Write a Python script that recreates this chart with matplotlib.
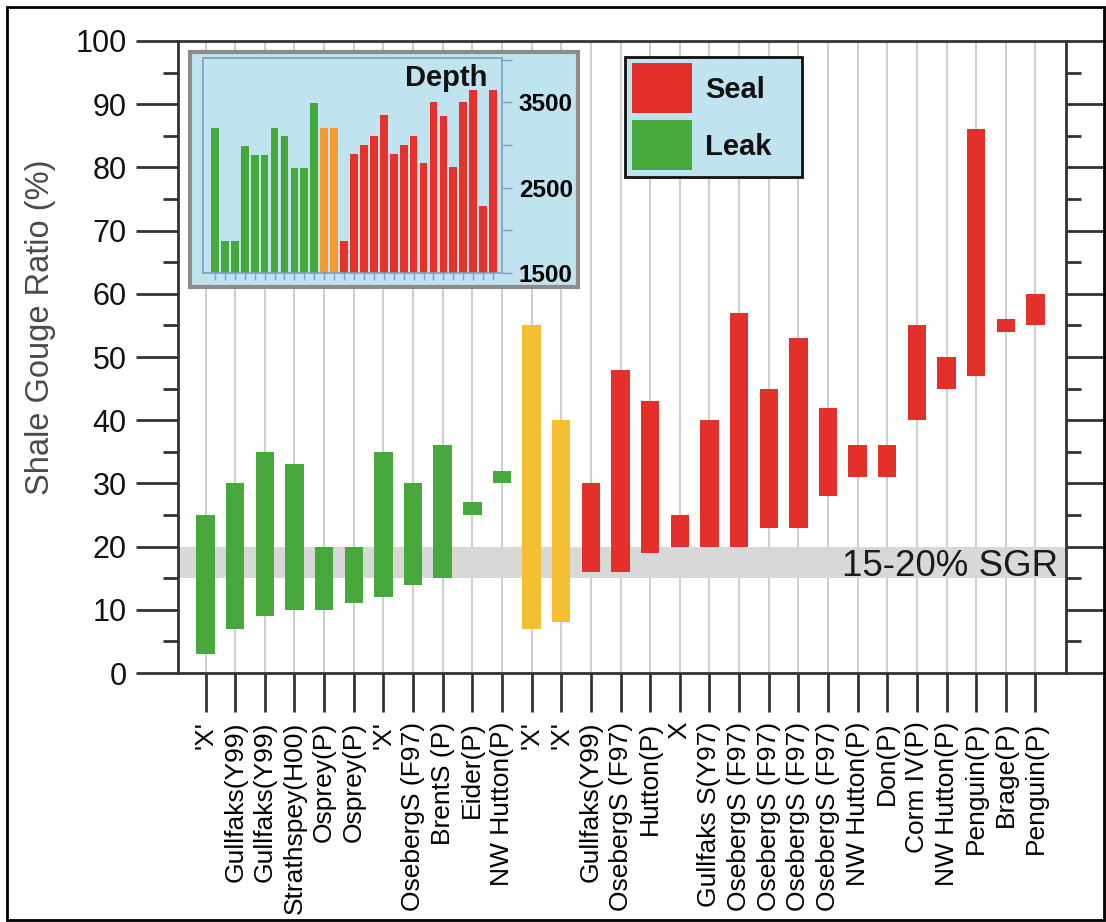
from matplotlib import pyplot as plt
from matplotlib.patches import Rectangle
from matplotlib.ticker import MultipleLocator, FixedLocator
import numpy as np

plt.rcParams['font.family'] = ['Liberation Sans', 'DejaVu Sans']

# fault SGR ranges (%), one bar per fault
labels = ["'X'", "Gullfaks(Y99)", "Gullfaks(Y99)", "Strathspey(H00)", "Osprey(P)",
          "Osprey(P)", "'X'", "OsebergS (F97)", "BrentS (P)", "Eider(P)",
          "NW Hutton(P)", "'X'", "'X'", "Gullfaks(Y99)", "OsebergS (F97)",
          "Hutton(P)", "X", "Gullfaks S(Y97)", "OsebergS (F97)", "OsebergS (F97)",
          "OsebergS (F97)", "OsebergS (F97)", "NW Hutton(P)", "Don(P)", "Corm IV(P)",
          "NW Hutton(P)", "Penguin(P)", "Brage(P)", "Penguin(P)"]
sgr_low = [3, 7, 9, 10, 10, 11, 12, 14, 15, 25, 30, 7, 8, 16, 16, 19, 20, 20, 20,
           23, 23, 28, 31, 31, 40, 45, 47, 54, 55]
sgr_high = [25, 30, 35, 33, 20, 20, 35, 30, 36, 27, 32, 55, 40, 30, 48, 43, 25, 40,
            57, 45, 53, 42, 36, 36, 55, 50, 86, 56, 60]
# 0 = leak, 1 = uncertain, 2 = seal
status = [0] * 11 + [1] * 2 + [2] * 16

# burial depth (m) of each fault, for the inset
depth = [3200, 1870, 1870, 2990, 2885, 2885, 3200, 3100, 2730, 2730, 3490,
         3200, 3200, 1880, 2890, 3000, 3100, 3355, 2890, 3000, 3100, 2795,
         3500, 3345, 2745, 3500, 3645, 2290, 3645]

main_colors = ['#47a93b', '#f4bf33', '#e4302a']
inset_colors = ['#47a93b', '#f39a35', '#e7322b']
bg_blue = '#bfe3ef'

W, H = 1106, 922
fig = plt.figure(figsize=(W / 100, H / 100), dpi=100)


def fig_box(x0, y0, x1, y1):
    # pixel box (top-left origin) -> figure fraction rect
    return [x0 / W, 1 - y1 / H, (x1 - x0) / W, (y1 - y0) / H]


ax = fig.add_axes(fig_box(178, 41, 1066, 673))
x = np.arange(len(labels))
low = np.array(sgr_low)
high = np.array(sgr_high)
ax.bar(x, high - low, bottom=low, width=0.62,
       color=[main_colors[s] for s in status], zorder=3)
ax.axhspan(15, 20, color='#d8d8d8', lw=0, zorder=1)
ax.text(28.75, 17.5, '15-20% SGR', ha='right', va='center_baseline',
        fontsize=26.5, color='#1a1a1a', zorder=4)

ax.set_xlim(-0.93, 29.03)
ax.set_ylim(0, 100)
ax.set_xticks(x)
ax.set_xticklabels(labels, rotation=90, fontsize=19, color='#000000')
ax.yaxis.set_major_locator(MultipleLocator(10))
ax.yaxis.set_minor_locator(MultipleLocator(5))
ax.tick_params(axis='x', length=28, width=2, pad=7, color='#333333')
ax.tick_params(axis='y', which='major', left=True, right=True, length=30,
               width=2, labelsize=22, pad=7, color='#333333', labelcolor='#111111')
ax.tick_params(axis='y', which='minor', left=True, right=True, length=11,
               width=2, color='#333333')
ax.grid(axis='x', color='#cfcfcf', lw=1.5, zorder=0)
ax.set_axisbelow(True)
for sp in ax.spines.values():
    sp.set_linewidth(2)
    sp.set_color('#333333')
fig.text(41 / W, 1 - 327 / H, 'Shale Gouge Ratio (%)', rotation=90,
         ha='center', va='center', fontsize=23.5, color='#4a4a4a')

# depth inset
fig.patches.append(Rectangle(fig_box(190, 52, 578, 287)[:2], 388 / W, 235 / H,
                             transform=fig.transFigure, facecolor=bg_blue,
                             edgecolor='#8c8c8c', lw=3, zorder=1))
ins = fig.add_axes(fig_box(203, 58, 502, 273))
ins.set_zorder(2)
ins.set_facecolor(bg_blue)
ins.bar(x, np.array(depth) - 1500, bottom=1500, width=0.78,
        color=[inset_colors[s] for s in status])
ins.set_xlim(-1.2, 28.9)
ins.set_ylim(1500, 4020)
ins.set_xticks(x)
ins.set_xticklabels([])
ins.yaxis.tick_right()
ins.yaxis.set_major_locator(FixedLocator([1500, 2500, 3500]))
ins.yaxis.set_minor_locator(FixedLocator([2000, 3000, 4000]))
ins.tick_params(axis='x', length=5, width=1, color='#7f9fbf')
ins.tick_params(axis='y', which='both', length=7, width=1, color='#7f9fbf',
                labelsize=17.5, pad=5)
for lab in ins.get_yticklabels():
    lab.set_fontweight('bold')
for sp in ins.spines.values():
    sp.set_color('#7f9fbf')
    sp.set_linewidth(1.2)
ins.text(0.95, 0.97, 'Depth', transform=ins.transAxes, ha='right', va='top',
         fontsize=21, fontweight='bold', color='#111111')

# seal / leak key
fig.patches.append(Rectangle(fig_box(625, 57, 802, 177)[:2], 177 / W, 120 / H,
                             transform=fig.transFigure, facecolor=bg_blue,
                             edgecolor='#111111', lw=2, zorder=1))
for i, (name, col) in enumerate([('Seal', main_colors[2]), ('Leak', main_colors[0])]):
    y0 = 63 + i * 57
    fig.patches.append(Rectangle(fig_box(632, y0, 692, y0 + 50)[:2], 60 / W, 50 / H,
                                 transform=fig.transFigure, facecolor=col,
                                 edgecolor='none', zorder=2))
    fig.text(705 / W, 1 - (y0 + 27) / H, name, ha='left', va='center',
             fontsize=21, fontweight='bold', color='#111111', zorder=3)

# outer frame
fig.patches.append(Rectangle((7 / W, 2 / H), 1097 / W, 913 / H,
                             transform=fig.transFigure, fill=False,
                             edgecolor='black', lw=2, zorder=5))

fig.savefig('out.png', dpi=100)
